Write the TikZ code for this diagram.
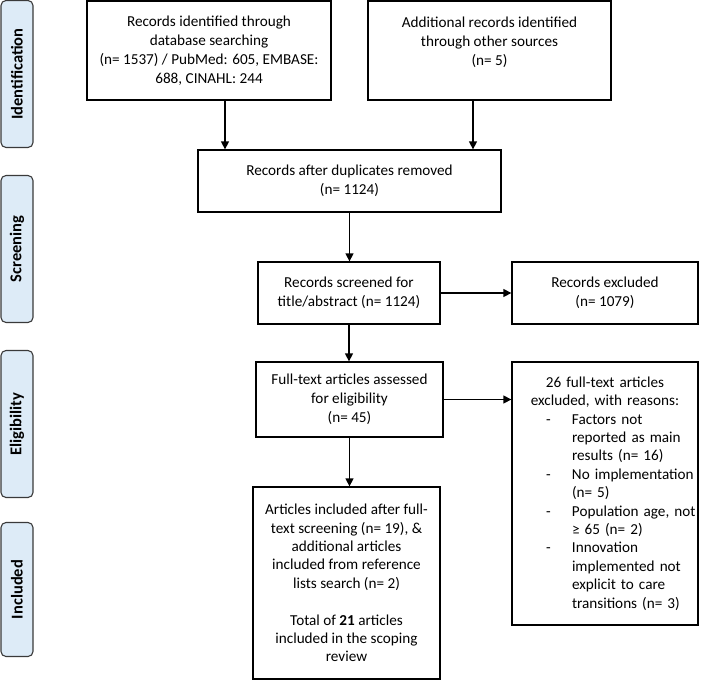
\documentclass[tikz,border=0pt]{standalone}
\usepackage{fontspec}
\setmainfont{Carlito}
\usetikzlibrary{arrows.meta}
\definecolor{sidefill}{HTML}{DDEBF7}
\definecolor{sidedraw}{HTML}{3A3A3A}
\tikzset{
  box/.style={draw=black, line width=1.3pt, rectangle, inner sep=0pt, align=center,
    font=\fontsize{15.2}{19}\selectfont},
  side/.style={draw=sidedraw, fill=sidefill, line width=1.1pt, rounded corners=5pt,
    rotate=90, minimum height=32pt, inner sep=0pt, font=\fontsize{16.5}{18}\selectfont\bfseries},
  arr/.style={line width=1.4pt, -{Triangle[length=8pt,width=8pt]}}
}
\begin{document}
\begin{tikzpicture}[x=1pt,y=-1pt]
\useasboundingbox (0,0) rectangle (710,681);
% side labels
\node[side, minimum width=147pt] (sid) at (17,74) {Identification};
\node[side, minimum width=147pt] (sscr) at (17,249) {Screening};
\node[side, minimum width=147pt] (sel) at (17,424) {Eligibility};
\node[side, minimum width=134pt] (sinc) at (17,589.5) {Included};
% boxes
\node[box, minimum width=244pt, minimum height=99pt] (b1) at (209,50.5)
  {Records identified through\\database searching\\(n= 1537) / PubMed: 605, EMBASE:\\688, CINAHL: 244};
\node[box, minimum width=243pt, minimum height=99pt] (b2) at (489.5,50.5)
  {Additional records identified\\through other sources\\(n= 5)\\\mbox{}};
\node[box, minimum width=303pt, minimum height=62pt] (b3) at (349.5,181)
  {Records after duplicates removed\\(n= 1124)};
\node[box, minimum width=182pt, minimum height=62pt] (b4) at (349,293)
  {Records screened for\\title/abstract (n= 1124)};
\node[box, minimum width=186pt, minimum height=62pt] (b5) at (605,293)
  {Records excluded\\(n= 1079)};
\node[box, minimum width=187pt, minimum height=75pt] (b6) at (349.5,399.5)
  {Full-text articles assessed\\for eligibility\\(n= 45)};
\node[box, text width=186pt, minimum height=263pt, align=left, font=\fontsize{15.2}{18.4}\selectfont] (b7) at (605,493.5)
  {\makebox[186pt][c]{26 full-text articles}\\
   \makebox[186pt][c]{excluded, with reasons:}\\
   \hspace*{34pt}\makebox[26pt][l]{-}Factors not\\
   \hspace*{60pt}reported as main\\
   \hspace*{60pt}results (n= 16)\\
   \hspace*{34pt}\makebox[26pt][l]{-}No implementation\\
   \hspace*{60pt}(n= 5)\\
   \hspace*{34pt}\makebox[26pt][l]{-}Population age, not\\
   \hspace*{60pt}≥ 65 (n= 2)\\
   \hspace*{34pt}\makebox[26pt][l]{-}Innovation\\
   \hspace*{60pt}implemented not\\
   \hspace*{60pt}explicit to care\\
   \hspace*{60pt}transitions (n= 3)};
\node[box, minimum width=187pt, minimum height=192pt, font=\fontsize{15.2}{18.4}\selectfont] (b8) at (346.5,583)
  {Articles included after full-\\text screening (n= 19), \&\\additional articles\\included from reference\\lists search (n= 2)\\[18.4pt]
   Total of \textbf{21} articles\\included in the scoping\\review};
% connectors
\draw[arr] (b1.south -| 225,0) -- (225,0 |- b3.north);
\draw[arr] (b2.south -| 473,0) -- (473,0 |- b3.north);
\draw[arr] (b3.south) -- (b3.south |- b4.north);
\draw[arr] (b4.east) -- (b5.west);
\draw[arr] (b4.south) -- (b4.south |- b6.north);
\draw[arr] (b6.east) -- (b6.east -| b7.west);
\draw[arr] (b6.south) -- (b6.south |- b8.north);
\end{tikzpicture}
\end{document}
